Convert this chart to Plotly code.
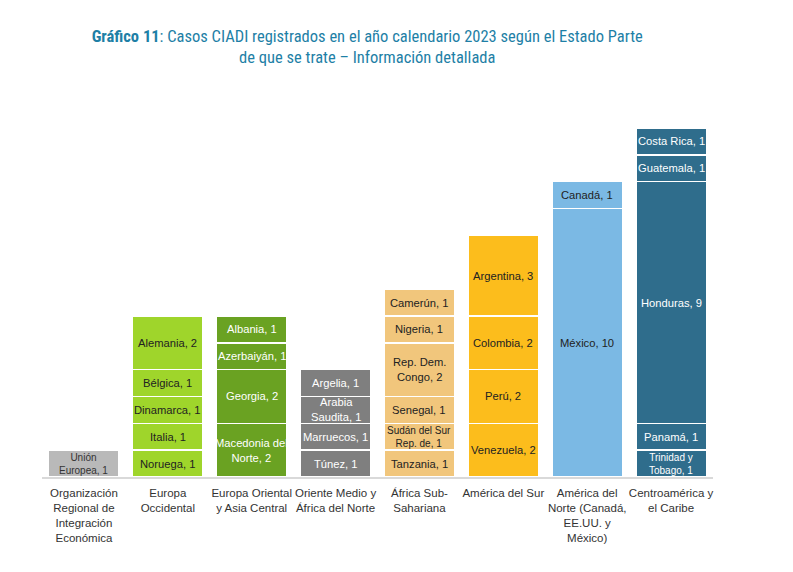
import plotly.graph_objects as go

# categorias (regiones) y sus segmentos, de abajo hacia arriba
regiones = [
    "Organización<br>Regional de<br>Integración<br>Económica",
    "Europa<br>Occidental",
    "Europa Oriental<br>y Asia Central",
    "Oriente Medio y<br>África del Norte",
    "África Sub-<br>Sahariana",
    "América del Sur",
    "América del<br>Norte (Canadá,<br>EE.UU. y<br>México)",
    "Centroamérica y<br>el Caribe",
]

paises = [
    ["Unión<br>Europea"],
    ["Noruega", "Italia", "Dinamarca", "Bélgica", "Alemania"],
    ["Macedonia del<br>Norte", "Georgia", "Azerbaiyán", "Albania"],
    ["Túnez", "Marruecos", "Arabia<br>Saudita", "Argelia"],
    ["Tanzania", "Sudán del Sur<br>Rep. de", "Senegal", "Rep. Dem.<br>Congo", "Nigeria", "Camerún"],
    ["Venezuela", "Perú", "Colombia", "Argentina"],
    ["México", "Canadá"],
    ["Trinidad y<br>Tobago", "Panamá", "Honduras", "Guatemala", "Costa Rica"],
]

casos = [
    [1],
    [1, 1, 1, 1, 2],
    [2, 2, 1, 1],
    [1, 1, 1, 1],
    [1, 1, 1, 2, 1, 1],
    [2, 2, 2, 3],
    [10, 1],
    [1, 1, 9, 1, 1],
]

colores = ["#b9b9b9", "#9fd52b", "#6aa222", "#7f7f7f", "#f1c67c", "#fcbd1c", "#7bb9e4", "#2f6d8c"]
color_texto = ["#333333", "#222222", "#ffffff", "#ffffff", "#222222", "#222222", "#222222", "#ffffff"]
chicos = ["Unión<br>Europea", "Sudán del Sur<br>Rep. de", "Trinidad y<br>Tobago"]

fig = go.Figure()
for i, reg in enumerate(regiones):
    base = 0
    for nombre, val in zip(paises[i], casos[i]):
        fig.add_trace(go.Bar(
            x=[reg], y=[val],
            marker=dict(color=colores[i], line=dict(color="white", width=1.5)),
            showlegend=False,
            hoverinfo="skip",
        ))
        # etiqueta centrada en el segmento
        fig.add_annotation(
            x=reg, y=base + val / 2,
            text=f"{nombre}, {val}",
            showarrow=False,
            font=dict(family="Liberation Sans, Arial",
                      size=10 if nombre in chicos else 11.2,
                      color=color_texto[i]),
        )
        base += val

fig.update_layout(
    barmode="stack",
    bargap=0.16,
    width=793, height=572,
    margin=dict(l=34, r=88, t=120, b=103),
    plot_bgcolor="white",
    paper_bgcolor="white",
    title=dict(
        text="<b>Gráfico 11</b>: Casos CIADI registrados en el año calendario 2023 según el Estado Parte<br>de que se trate – Información detallada",
        x=0.453, xanchor="center",
        y=1 - 34 / 572, yanchor="middle", yref="container",
        font=dict(family="Roboto Condensed, Liberation Sans Narrow, Roboto", size=16.5, color="#1e7fa6"),
    ),
)
fig.update_xaxes(
    showline=True, linecolor="#d9d9d9", linewidth=2,
    tickangle=0, automargin=False, ticklabelstandoff=4,
    tickfont=dict(family="Liberation Sans, Arial", size=11.5, color="#333333"),
    ticks="", showgrid=False,
)
fig.update_yaxes(visible=False, range=[0, 13])

fig.write_html("out.html")
